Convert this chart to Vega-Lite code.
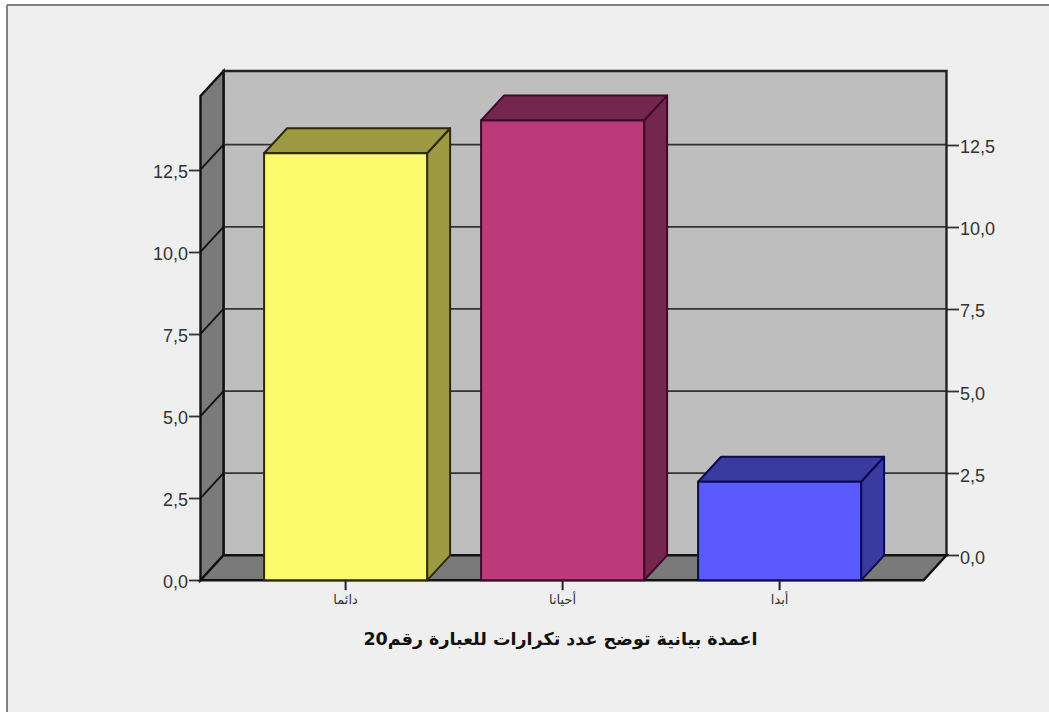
{
  "$schema": "https://vega.github.io/schema/vega-lite/v6.json",
  "width": 1042,
  "height": 707,
  "autosize": {"type": "none"},
  "padding": {"left": 7, "top": 5, "right": 0, "bottom": 3},
  "background": "#ffffff",
  "config": {"view": {"fill": "#efefef", "stroke": null}},
  "datasets": {
    "bars": [
      {"category": "دائما", "count": 13},
      {"category": "أحيانا", "count": 14},
      {"category": "أبدا", "count": 3}
    ],
    "levels": [
      {"level": 0}, {"level": 2.5}, {"level": 5}, {"level": 7.5}, {"level": 10}, {"level": 12.5}
    ],
    "panel": [{"part": "chart frame", "heading": "اعمدة بيانية توضح عدد تكرارات للعبارة رقم20", "left": -1.5604, "top": 16.752, "wallLeft": -0.5627, "wallRight": 2.7691, "wallBase": 0, "wallTop": 14.743}]
  },
  "resolve": {"scale": {"y": "independent"}},
  "layer": [
    {
      "data": {"name": "panel"},
      "mark": {"type": "rule", "stroke": "#808080", "strokeWidth": 2},
      "encoding": {
        "x": {"field": "left", "type": "quantitative", "scale": {"domain": [-1.5604, 3.2415], "nice": false, "zero": false}, "axis": null}
      }
    },
    {
      "data": {"name": "panel"},
      "mark": {"type": "rule", "stroke": "#808080", "strokeWidth": 2},
      "encoding": {
        "y": {"field": "top", "type": "quantitative", "scale": {"domain": [-4.77, 16.752], "nice": false, "zero": false}, "axis": null}
      }
    },
    {
      "data": {"name": "panel"},
      "mark": {"type": "rect", "fill": "#bebebe"},
      "encoding": {
        "x": {"field": "wallLeft", "type": "quantitative", "axis": null},
        "x2": {"field": "wallRight"},
        "y": {"field": "wallBase", "type": "quantitative", "scale": {"domain": [-4.77, 16.752], "nice": false, "zero": false}, "axis": null},
        "y2": {"field": "wallTop"}
      }
    },
    {
      "data": {"name": "levels"},
      "transform": [{"calculate": "-0.5627", "as": "from"}, {"calculate": "2.7691", "as": "to"}],
      "mark": {"type": "rule", "stroke": "#333333", "strokeWidth": 1.8},
      "encoding": {
        "x": {"field": "from", "type": "quantitative", "axis": null},
        "x2": {"field": "to"},
        "y": {
          "field": "level",
          "type": "quantitative",
          "scale": {"domain": [-4.77, 16.752], "nice": false, "zero": false},
          "axis": {
            "orient": "right",
            "offset": -102.5,
            "values": [0, 2.5, 5, 7.5, 10, 12.5],
            "title": null,
            "grid": false,
            "domain": false,
            "tickSize": 12,
            "tickWidth": 1.8,
            "tickColor": "#333333",
            "labelPadding": 1,
            "labelOffset": 3,
            "labelFont": "Liberation Sans",
            "labelFontSize": 18,
            "labelColor": "#333333",
            "labelExpr": "replace(format(datum.value, '.1f'), '.', ',')"
          }
        }
      }
    },
    {
      "data": {"name": "panel"},
      "mark": {"type": "rect", "fillOpacity": 0, "stroke": "#222222", "strokeWidth": 2.4},
      "encoding": {
        "x": {"field": "wallLeft", "type": "quantitative", "axis": null},
        "x2": {"field": "wallRight"},
        "y": {"field": "wallBase", "type": "quantitative", "scale": {"domain": [-4.77, 16.752], "nice": false, "zero": false}, "axis": null},
        "y2": {"field": "wallTop"}
      }
    },
    {
      "data": {"name": "panel"},
      "transform": [{"calculate": "[0, 1]", "as": "t"}, {"flatten": ["t"]}, {"calculate": "-0.6687 + datum.t * 0.106", "as": "xs"}, {"calculate": "datum.t * 0.761", "as": "low"}, {"calculate": "14.743 + datum.t * 0.761", "as": "high"}],
      "mark": {"type": "area", "orient": "vertical", "fill": "#7a7a7a", "stroke": "#111111", "strokeWidth": 2.4},
      "encoding": {
        "x": {"field": "xs", "type": "quantitative", "axis": null},
        "y": {
          "field": "low",
          "type": "quantitative",
          "scale": {"domain": [-4.009, 17.513], "nice": false, "zero": false},
          "axis": {
            "orient": "left",
            "offset": -193.5,
            "values": [0, 2.5, 5, 7.5, 10, 12.5],
            "title": null,
            "grid": false,
            "domain": false,
            "tickSize": 12,
            "tickWidth": 1.8,
            "tickColor": "#333333",
            "labelPadding": 1,
            "labelOffset": 2.5,
            "labelFont": "Liberation Sans",
            "labelFontSize": 18,
            "labelColor": "#333333",
            "labelExpr": "replace(format(datum.value, '.1f'), '.', ',')"
          }
        },
        "y2": {"field": "high"}
      }
    },
    {
      "data": {"name": "panel"},
      "transform": [{"calculate": "[0, 1]", "as": "t"}, {"flatten": ["t"]}, {"calculate": "-0.6687 + datum.t * 0.106", "as": "xa"}, {"calculate": "2.6631 + datum.t * 0.106", "as": "xb"}, {"calculate": "datum.t * 0.761", "as": "ys"}],
      "mark": {"type": "area", "orient": "horizontal", "fill": "#7a7a7a", "stroke": "#111111", "strokeWidth": 2.4},
      "encoding": {
        "y": {"field": "ys", "type": "quantitative", "scale": {"domain": [-4.009, 17.513], "nice": false, "zero": false}, "axis": null},
        "x": {"field": "xa", "type": "quantitative", "axis": null},
        "x2": {"field": "xb"}
      }
    },
    {
      "data": {"name": "levels"},
      "transform": [{"filter": "datum.level > 0"}, {"calculate": "datum.level + 0.761", "as": "backLevel"}, {"calculate": "-0.6687", "as": "from"}, {"calculate": "-0.5627", "as": "to"}],
      "mark": {"type": "rule", "stroke": "#111111", "strokeWidth": 1.8},
      "encoding": {
        "x": {"field": "from", "type": "quantitative", "axis": null},
        "x2": {"field": "to"},
        "y": {"field": "level", "type": "quantitative", "scale": {"domain": [-4.009, 17.513], "nice": false, "zero": false}, "axis": null},
        "y2": {"field": "backLevel"}
      }
    },
    {
      "data": {"name": "bars"},
      "transform": [
        {"window": [{"op": "row_number", "as": "n"}]},
        {"calculate": "datum.n - 1", "as": "pos"},
        {"calculate": "[0, 1]", "as": "t"},
        {"flatten": ["t"]},
        {"calculate": "'shade ' + datum.category", "as": "tone"},
        {"calculate": "datum.pos + 0.3756 + datum.t * 0.106", "as": "xs"},
        {"calculate": "datum.t * 0.761", "as": "low"},
        {"calculate": "datum.count + datum.t * 0.761", "as": "high"}
      ],
      "mark": {"type": "area", "orient": "vertical", "strokeWidth": 2, "strokeJoin": "round"},
      "encoding": {
        "x": {"field": "xs", "type": "quantitative", "axis": null},
        "y": {"field": "low", "type": "quantitative", "scale": {"domain": [-4.009, 17.513], "nice": false, "zero": false}, "axis": null},
        "y2": {"field": "high"},
        "fill": {
          "field": "tone",
          "type": "nominal",
          "legend": null,
          "scale": {
            "domain": ["دائما", "أحيانا", "أبدا", "shade دائما", "shade أحيانا", "shade أبدا"],
            "range": ["#fdfa6e", "#bc3a7a", "#5a5aff", "#9e9a42", "#74264e", "#3a3aa0"]
          }
        },
        "stroke": {
          "field": "category",
          "type": "nominal",
          "legend": null,
          "scale": {
            "domain": ["دائما", "أحيانا", "أبدا"],
            "range": ["#2c2a08", "#3f0828", "#0c0c50"]
          }
        }
      }
    },
    {
      "data": {"name": "bars"},
      "transform": [
        {"window": [{"op": "row_number", "as": "n"}]},
        {"calculate": "datum.n - 1", "as": "pos"},
        {"calculate": "[0, 1]", "as": "t"},
        {"flatten": ["t"]},
        {"calculate": "'shade ' + datum.category", "as": "tone"},
        {"calculate": "datum.count + datum.t * 0.761", "as": "high"},
        {"calculate": "datum.pos - 0.3756 + datum.t * 0.106", "as": "xa"},
        {"calculate": "datum.pos + 0.3756 + datum.t * 0.106", "as": "xb"}
      ],
      "mark": {"type": "area", "orient": "horizontal", "strokeWidth": 2, "strokeJoin": "round"},
      "encoding": {
        "y": {"field": "high", "type": "quantitative", "scale": {"domain": [-4.009, 17.513], "nice": false, "zero": false}, "axis": null},
        "x": {"field": "xa", "type": "quantitative", "axis": null},
        "x2": {"field": "xb"},
        "fill": {"field": "tone", "type": "nominal", "legend": null},
        "stroke": {"field": "category", "type": "nominal", "legend": null}
      }
    },
    {
      "data": {"name": "bars"},
      "transform": [
        {"window": [{"op": "row_number", "as": "n"}]},
        {"calculate": "datum.n - 1.3756", "as": "left"},
        {"calculate": "datum.n - 0.6244", "as": "right"},
        {"calculate": "0", "as": "base"}
      ],
      "mark": {"type": "rect", "strokeWidth": 2},
      "encoding": {
        "x": {"field": "left", "type": "quantitative", "axis": null},
        "x2": {"field": "right"},
        "y": {"field": "base", "type": "quantitative", "scale": {"domain": [-4.009, 17.513], "nice": false, "zero": false}, "axis": null},
        "y2": {"field": "count"},
        "fill": {"field": "category", "type": "nominal", "legend": null},
        "stroke": {"field": "category", "type": "nominal", "legend": null}
      }
    },
    {
      "data": {"name": "bars"},
      "transform": [
        {"window": [{"op": "row_number", "as": "n"}]},
        {"calculate": "datum.n - 1", "as": "pos"},
        {"calculate": "0", "as": "tickTop"},
        {"calculate": "-0.3", "as": "tickEnd"}
      ],
      "mark": {"type": "rule", "stroke": "#222222", "strokeWidth": 2},
      "encoding": {
        "x": {"field": "pos", "type": "quantitative", "axis": null},
        "y": {"field": "tickTop", "type": "quantitative", "scale": {"domain": [-4.009, 17.513], "nice": false, "zero": false}, "axis": null},
        "y2": {"field": "tickEnd"}
      }
    },
    {
      "data": {"name": "bars"},
      "transform": [
        {"window": [{"op": "row_number", "as": "n"}]},
        {"calculate": "datum.n - 1", "as": "pos"},
        {"calculate": "-0.6", "as": "labelLine"}
      ],
      "mark": {"type": "text", "font": "DejaVu Sans", "fontSize": 13, "fill": "#333333", "align": "center", "baseline": "middle"},
      "encoding": {
        "x": {"field": "pos", "type": "quantitative", "axis": null},
        "y": {"field": "labelLine", "type": "quantitative", "scale": {"domain": [-4.009, 17.513], "nice": false, "zero": false}, "axis": null},
        "text": {"field": "category", "type": "nominal"}
      }
    },
    {
      "data": {"name": "panel"},
      "transform": [
        {"calculate": "0.99", "as": "center"},
        {"calculate": "-1.817", "as": "headingLine"}
      ],
      "mark": {"type": "text", "font": "DejaVu Sans", "fontWeight": "bold", "fontSize": 17.5, "fill": "#111111", "align": "center", "baseline": "middle"},
      "encoding": {
        "x": {"field": "center", "type": "quantitative", "axis": null},
        "y": {"field": "headingLine", "type": "quantitative", "scale": {"domain": [-4.009, 17.513], "nice": false, "zero": false}, "axis": null},
        "text": {"field": "heading", "type": "nominal"}
      }
    }
  ]
}
